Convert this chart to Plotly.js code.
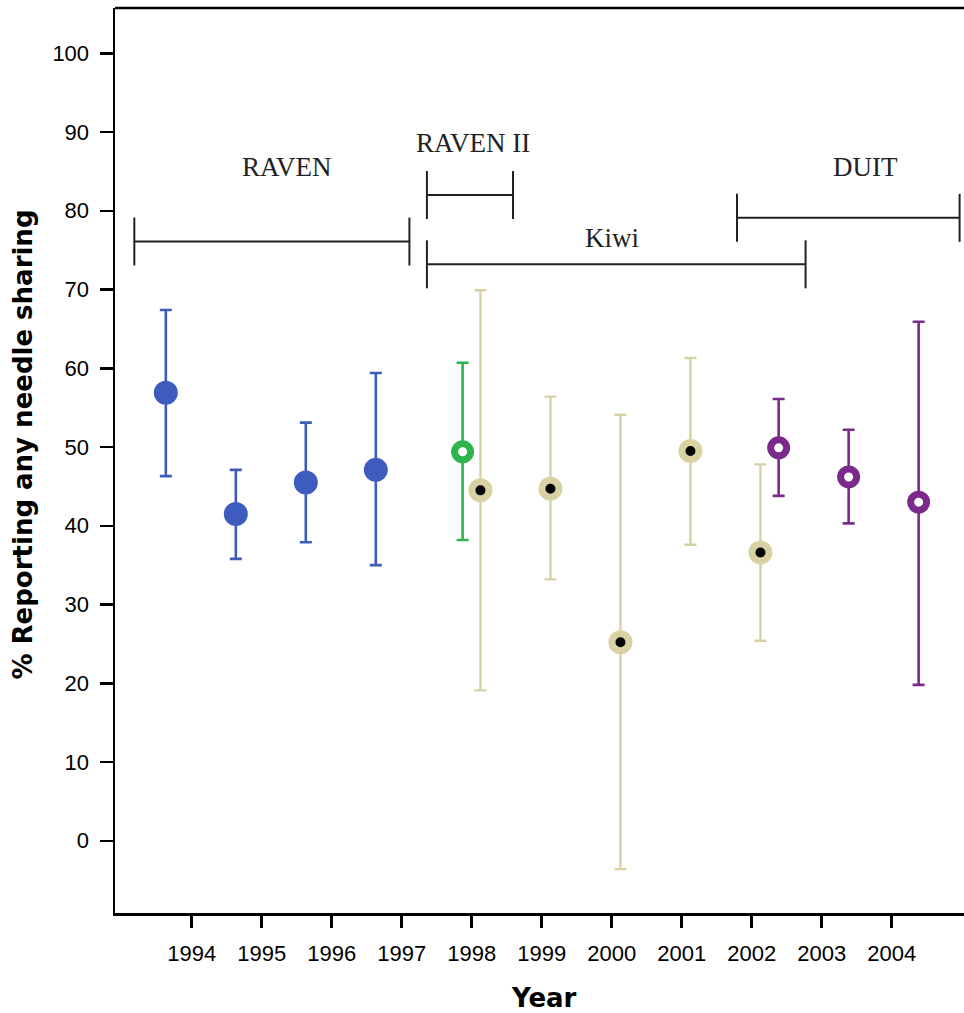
<!DOCTYPE html>
<html>
<head>
<meta charset="utf-8">
<script src="https://cdn.plot.ly/plotly-3.0.1.min.js"></script>
<style>
html,body{margin:0;padding:0;background:#fff;}
#chart{width:964px;height:1013px;}
</style>
</head>
<body>
<div id="chart"></div>
<script>
// ---- data ----
const tickYears = [1994,1995,1996,1997,1998,1999,2000,2001,2002,2003,2004];
const tickLabels = ['1994','1995','1996','1997','1998','1999','2000','2001','2002','2003','2004'];
const yTicks = [0,10,20,30,40,50,60,70,80,90,100];

const ravenYears = [1994,1995,1996,1997];
const ravenPct   = [56.9,41.5,45.5,47.1];
const ravenLow   = [46.3,35.8,37.9,35.0];
const ravenHigh  = [67.4,47.1,53.1,59.4];

const raven2Years = [1998];
const raven2Pct   = [49.4];
const raven2Low   = [38.2];
const raven2High  = [60.7];

const kiwiYears = [1998,1999,2000,2001,2002];
const kiwiPct   = [44.5,44.7,25.2,49.5,36.6];
const kiwiLow   = [19.1,33.2,-3.6,37.6,25.4];
const kiwiHigh  = [69.9,56.4,54.1,61.3,47.8];

const duitYears = [2002,2003,2004];
const duitPct   = [49.9,46.2,43.0];
const duitLow   = [43.8,40.3,19.8];
const duitHigh  = [56.1,52.2,65.9];

const studyNames = ['RAVEN','RAVEN II','Kiwi','DUIT'];
const studyStart = [1993.18,1997.36,1997.36,2001.79];
const studyEnd   = [1997.11,1998.59,2002.77,2004.97];
const studyLevel = [76.1,82.0,73.2,79.1];

// ---- styling / positions ----
const dodge = {raven:-0.37, raven2:-0.13, kiwi:0.125, duit:0.385};
const labelPos = [[1995.36,85.6],[1998.02,88.6],[2000.0,76.5],[2003.62,85.6]];

function shift(arr, d){ return arr.map(v => v + d); }
function up(hi, c){ return hi.map((v,i) => v - c[i]); }
function dn(lo, c){ return c.map((v,i) => v - lo[i]); }

const blue = '#3d5cbd', green = '#2db44c', tan = '#d8d2a3', purple = '#7b2a8c';

const traces = [
  {
    x: shift(ravenYears, dodge.raven), y: ravenPct, type:'scatter', mode:'markers',
    marker:{size:24, color:blue, line:{width:0}},
    error_y:{type:'data', symmetric:false, array:up(ravenHigh,ravenPct), arrayminus:dn(ravenLow,ravenPct),
             color:blue, thickness:2.6, width:6},
    hoverinfo:'skip'
  },
  {
    x: shift(raven2Years, dodge.raven2), y: raven2Pct, type:'scatter', mode:'markers',
    marker:{size:16, color:'#ffffff', line:{width:7, color:green}},
    error_y:{type:'data', symmetric:false, array:up(raven2High,raven2Pct), arrayminus:dn(raven2Low,raven2Pct),
             color:green, thickness:2.6, width:6},
    hoverinfo:'skip'
  },
  {
    x: shift(kiwiYears, dodge.kiwi), y: kiwiPct, type:'scatter', mode:'markers',
    marker:{size:17, color:'#000000', line:{width:7, color:tan}},
    error_y:{type:'data', symmetric:false, array:up(kiwiHigh,kiwiPct), arrayminus:dn(kiwiLow,kiwiPct),
             color:tan, thickness:2.4, width:6},
    hoverinfo:'skip'
  },
  {
    x: shift(duitYears, dodge.duit), y: duitPct, type:'scatter', mode:'markers',
    marker:{size:16, color:'#ffffff', line:{width:7, color:purple}},
    error_y:{type:'data', symmetric:false, array:up(duitHigh,duitPct), arrayminus:dn(duitLow,duitPct),
             color:purple, thickness:2.6, width:6},
    hoverinfo:'skip'
  }
];

const shapes = [];
studyNames.forEach((n,i) => {
  shapes.push({type:'line', xref:'x', yref:'y', x0:studyStart[i], x1:studyEnd[i], y0:studyLevel[i], y1:studyLevel[i],
               line:{color:'#222', width:2}});
  [studyStart[i], studyEnd[i]].forEach(xv => {
    shapes.push({type:'line', xref:'x', yref:'y', ysizemode:'pixel', yanchor:studyLevel[i],
                 x0:xv, x1:xv, y0:-24, y1:24, line:{color:'#222', width:2}});
  });
});
// top border
shapes.push({type:'line', xref:'paper', yref:'paper', x0:0, x1:1, y0:1, y1:1, line:{color:'#000', width:2.5}});

const annotations = studyNames.map((n,i) => ({
  text:n, x:labelPos[i][0], y:labelPos[i][1], xref:'x', yref:'y', showarrow:false,
  xanchor:'center', yanchor:'middle',
  font:{family:'Liberation Serif, Times New Roman, serif', size:27, color:'#222'}
}));
annotations.push({
  text:'% Reporting any needle sharing', textangle:-90, xref:'paper', yref:'paper',
  x:(22-115)/849, y:(913-444.5)/905, xanchor:'center', yanchor:'middle', showarrow:false,
  font:{family:'DejaVu Sans, Verdana, sans-serif', size:26, color:'#000', weight:'bold'}
});
annotations.push({
  text:'Year', xref:'paper', yref:'paper',
  x:(544-115)/849, y:(913-998)/905, xanchor:'center', yanchor:'middle', showarrow:false,
  font:{family:'DejaVu Sans, Verdana, sans-serif', size:26, color:'#000', weight:'bold'}
});

const layout = {
  width:964, height:1013,
  margin:{l:115, r:0, t:8, b:100},
  paper_bgcolor:'#ffffff', plot_bgcolor:'#ffffff',
  showlegend:false,
  xaxis:{
    range:[1992.904, 2005.033], tickmode:'array', tickvals:tickYears, ticktext:tickLabels,
    ticks:'outside', ticklen:12, tickwidth:2.5, tickcolor:'#000',
    showline:true, linecolor:'#000', linewidth:2.5, showgrid:false, zeroline:false,
    ticklabelstandoff:7,
    tickfont:{family:'Liberation Sans, Arial, sans-serif', size:22, color:'#000'}
  },
  yaxis:{
    range:[-9.17, 105.75], tickmode:'array', tickvals:yTicks,
    ticks:'outside', ticklen:13, tickwidth:2.5, tickcolor:'#000',
    showline:true, linecolor:'#000', linewidth:2.5, showgrid:false, zeroline:false,
    ticklabelstandoff:6,
    tickfont:{family:'Liberation Sans, Arial, sans-serif', size:22, color:'#000'}
  },
  shapes:shapes,
  annotations:annotations
};

Plotly.newPlot('chart', traces, layout, {displayModeBar:false, staticPlot:true});
</script>
</body>
</html>
